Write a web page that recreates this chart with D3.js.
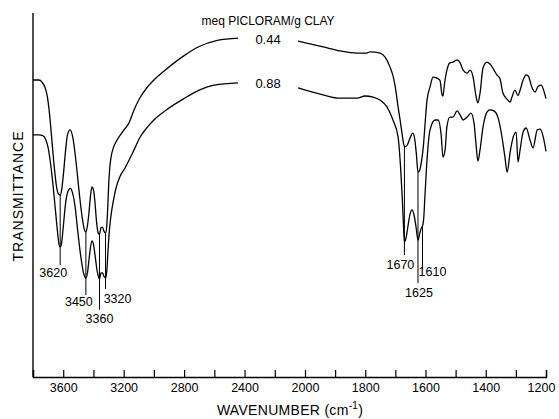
<!DOCTYPE html>
<html>
<head>
<meta charset="utf-8">
<script src="https://cdn.jsdelivr.net/npm/d3@7"></script>
<style>
  body { margin: 0; background: #fff; }
  svg { display: block; }
</style>
</head>
<body>
<svg id="chart" width="559" height="419"></svg>
<script>
// IR spectra of picloram-clay complexes, two loadings
var legendTitle = "meq PICLORAM/g CLAY";
var seriesNames = ["0.44", "0.88"];

// [wavenumber, transmittance (arbitrary %)]
var spec044 = [
  [3800,81.6],[3760,81.6],[3740,81.0],[3720,79.5],[3705,77],[3690,72],[3675,65],[3660,58],
  [3645,52.5],[3632,50.3],[3620,50.0],[3610,51.5],[3598,56],[3585,62],[3572,66.5],[3555,67.9],
  [3535,65.5],[3515,59],[3495,51],[3475,44],[3460,40.5],[3450,39.8],[3440,41.5],[3430,45],
  [3420,49.5],[3410,52.2],[3400,51.5],[3390,48],[3378,42],[3368,39.5],[3360,39.3],[3350,41],
  [3340,41.2],[3330,40],[3320,39.6],[3312,41.5],[3306,46],[3300,52],[3293,57],[3283,60.5],
  [3268,63],[3245,65],[3205,67.5],[3165,69.8],[3130,73.5],[3095,76.5],[3040,79.8],[3000,81.6],
  [2920,84.5],[2800,88.3],[2700,90.8],[2580,92.5],[2443,93.1],
  [2046,92.3],[1940,90.7],[1884,89.6],[1827,89.0],[1795,89.0],[1784,89.3],[1751,89.0],[1734,87.9],
  [1718,85.2],[1708,82.8],[1700,79.5],[1691,74.2],[1685,71],[1678,67],[1673,64.2],[1670,63.4],
  [1666,63.3],[1660,63.8],[1652,65.5],[1642,67.0],[1636,65.5],[1630,61],[1625,56.3],[1619,56.9],
  [1612,60],[1607,63.5],[1601,70],[1595,76],[1585,79.7],[1575,82.4],[1562,82.1],[1552,81.5],
  [1545,77.5],[1542,77.2],[1537,80.5],[1529,84.3],[1519,86.3],[1509,86.5],[1495,87.1],[1485,86.3],
  [1475,84.3],[1462,83.5],[1452,84.3],[1442,82.4],[1432,77],[1426,75.3],[1419,78],[1409,84.9],
  [1396,86.5],[1386,86],[1363,83],[1353,82],[1343,78],[1329,76.3],[1319,75.5],[1313,76.9],
  [1303,78.8],[1293,77.3],[1286,78.8],[1276,81.6],[1266,83],[1259,82.7],[1246,79.4],[1236,78.3],
  [1226,79.9],[1216,80.2],[1206,78.3],[1200,76.5]
];

var spec088 = [
  [3800,66.5],[3760,66.5],[3735,66.3],[3715,65.2],[3700,63],[3685,59],[3668,53],[3652,46],
  [3638,40],[3628,36.5],[3620,35.7],[3610,37],[3598,42],[3585,47.5],[3570,50.8],[3552,51.8],
  [3538,50.5],[3522,47],[3505,40.5],[3485,33.5],[3465,28.5],[3450,27.2],[3440,28.5],[3430,32],
  [3420,35.5],[3410,37.4],[3400,36.5],[3388,33],[3375,29],[3365,27.3],[3360,27.0],[3350,28.6],
  [3340,28.6],[3330,27.6],[3320,27.2],[3312,29],[3303,35],[3295,40],[3285,44],[3270,48],
  [3250,52],[3225,55],[3190,57.5],[3138,61.8],[3090,66],[3040,68.8],[3000,70.6],[2913,73.5],
  [2800,76.5],[2700,78.8],[2600,80.2],[2443,80.8],
  [2046,79.4],[1940,77.5],[1884,76.6],[1827,76.6],[1801,77.2],[1774,76.9],[1751,76.1],[1728,74.2],
  [1708,70.6],[1691,65.9],[1683,58],[1677,49],[1673,41.5],[1670,37.1],[1665,38],[1659,41],
  [1651,44.8],[1645,45.9],[1638,44.5],[1631,41],[1625,37.6],[1618,39.8],[1614,40.9],[1610,41.4],
  [1606,43.5],[1602,49.5],[1595,59.6],[1585,67.9],[1568,70.6],[1558,70.6],[1548,66.5],[1542,60.4],
  [1535,62.4],[1529,68.7],[1519,71.4],[1509,71.4],[1495,73.1],[1485,72],[1475,70.6],[1462,71.4],
  [1449,72.5],[1439,69.8],[1432,63.7],[1426,59.3],[1419,62.4],[1409,68.7],[1396,72.8],[1386,73.4],
  [1373,73.1],[1359,71.2],[1346,65.9],[1336,60.2],[1329,56.3],[1319,61.8],[1309,65.9],[1299,67.3],
  [1293,59.1],[1286,62.4],[1276,67.3],[1266,68.4],[1253,65.1],[1243,62.9],[1229,67.9],[1219,68.1],
  [1209,65.9],[1200,62]
];

var tickValues = [3800,3600,3400,3200,3000,2800,2600,2400,2200,2000,1900,1800,1700,1600,1500,1400,1300,1200];
var tickLabels = [3600,3200,2800,2400,2000,1800,1600,1400,1200];

var peakWn = [3620, 3450, 3360, 3320, 1670, 1625, 1610];
var peakFrom = [0, 0, 0, 0, 0, 0, 1];   // which trace the marker line starts on

var gapFrom = 2443, gapTo = 2046;       // break in traces for the legend labels

// layout
var svg = d3.select("#chart");
var font = "'Liberation Sans', Arial, sans-serif";
svg.attr("font-family", font);

// the wavenumber axis doubles its scale below 2000 cm-1
var x = d3.scaleLinear().domain([3800, 2000, 1200]).range([33, 305, 546]);
var y = d3.scaleLinear().domain([0, 100]).range([377, 13]);

var g = svg.append("g");

// left frame line
g.append("line")
  .attr("x1", x(3800)).attr("x2", x(3800))
  .attr("y1", y(100)).attr("y2", y(0))
  .attr("stroke", "#000").attr("stroke-width", 1.4);

var xAxis = d3.axisBottom(x)
  .tickValues(tickValues)
  .tickSize(-7)
  .tickFormat(function(d) { return tickLabels.indexOf(d) >= 0 ? d : ""; });

var ax = g.append("g")
  .attr("transform", "translate(0," + y(0) + ")")
  .call(xAxis);
ax.select(".domain").attr("stroke-width", 1.4);
ax.selectAll(".tick line").attr("stroke-width", 1.2);
ax.selectAll(".tick text")
  .attr("font-family", font)
  .attr("font-size", 12.5)
  .attr("y", 6)
  .attr("dy", "0.71em")
  .attr("dx", function(d) { return d === 1200 ? -5 : 0; });

// split each trace at the legend gap
function withGap(s) {
  var out = [];
  s.forEach(function(d) {
    out.push(d);
    if (d[0] === gapFrom) out.push([(gapFrom + gapTo) / 2, null]);
  });
  return out;
}

var line = d3.line()
  .defined(function(d) { return d[1] != null; })
  .x(function(d) { return x(d[0]); })
  .y(function(d) { return y(d[1]); })
  .curve(d3.curveMonotoneX);

var traces = [spec044, spec088];
g.selectAll(".trace")
  .data(traces.map(withGap))
  .enter().append("path")
    .attr("class", "trace")
    .attr("d", line)
    .attr("fill", "none")
    .attr("stroke", "#000")
    .attr("stroke-width", 1.3);

function valueAt(series, wn) {
  var pt = series.find(function(d) { return d[0] === wn; });
  return pt ? pt[1] : null;
}

// peak markers: line from trace down past the lower trace, then label
var tickDrop = [18, 17, 31, 11, 13, 43, 43];
var labelDx = [-7, -7, 0, 12, -4, 1, 10];
var labelDy = [8, 7, 9, 10, 10, 10, 3];

peakWn.forEach(function(wn, i) {
  var px = x(wn);
  var yTop = y(valueAt(traces[peakFrom[i]], wn));
  var yLow = y(valueAt(spec088, wn));
  var yEnd = yLow + tickDrop[i];
  g.append("line")
    .attr("x1", px).attr("x2", px)
    .attr("y1", yTop).attr("y2", yEnd)
    .attr("stroke", "#000").attr("stroke-width", 1);
  g.append("text")
    .attr("x", px + labelDx[i])
    .attr("y", yEnd + labelDy[i])
    .attr("text-anchor", "middle")
    .attr("dominant-baseline", "central")
    .attr("font-size", 12.5)
    .text(wn);
});

// legend labels in the gap of each trace
var gapMid = (x(gapFrom) + x(gapTo)) / 2;
g.append("text")
  .attr("x", gapMid).attr("y", 21)
  .attr("text-anchor", "middle")
  .attr("dominant-baseline", "central")
  .attr("font-size", 12)
  .text(legendTitle);

traces.forEach(function(s, i) {
  g.append("text")
    .attr("x", gapMid)
    .attr("y", y(valueAt(s, gapFrom)) + 1)
    .attr("text-anchor", "middle")
    .attr("dominant-baseline", "central")
    .attr("font-size", 13)
    .text(seriesNames[i]);
});

// axis titles
var xt = g.append("text")
  .attr("x", 290).attr("y", 410)
  .attr("text-anchor", "middle")
  .attr("dominant-baseline", "central")
  .attr("font-size", 14)
  .attr("letter-spacing", 0.3);
xt.append("tspan").text("WAVENUMBER (cm");
xt.append("tspan").attr("font-size", 10).attr("dy", -5).text("-1");
xt.append("tspan").attr("dy", 5).text(")");

g.append("text")
  .attr("transform", "translate(18,196) rotate(-90)")
  .attr("text-anchor", "middle")
  .attr("dominant-baseline", "central")
  .attr("font-size", 14)
  .attr("letter-spacing", 1)
  .text("TRANSMITTANCE");
</script>
</body>
</html>
